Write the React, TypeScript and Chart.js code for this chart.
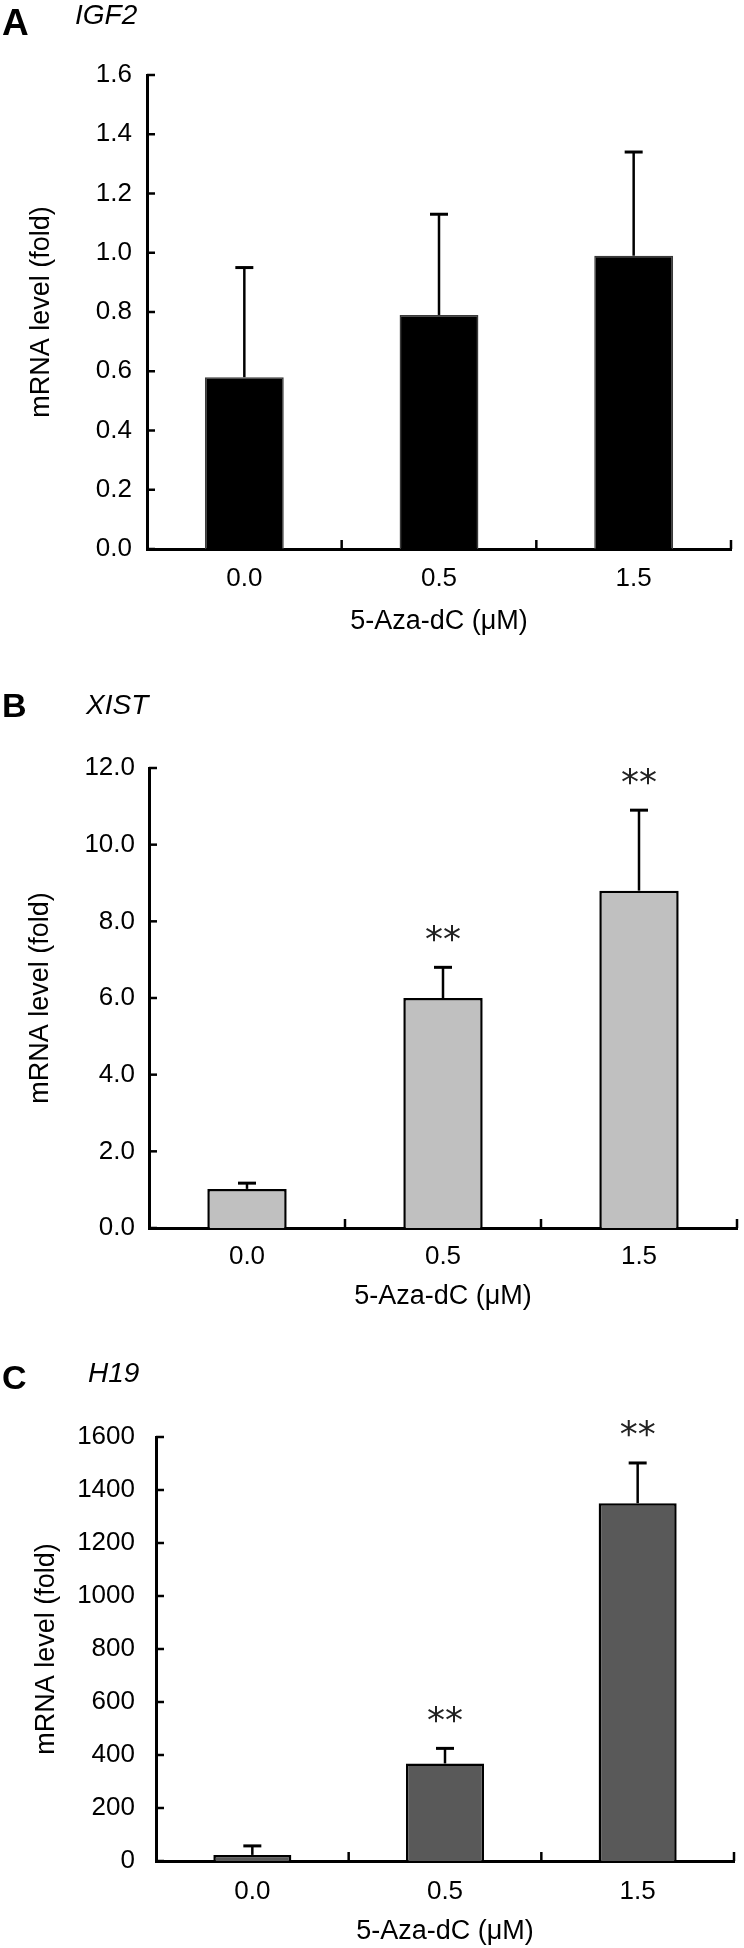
import React, { useEffect, useRef } from 'react';
import { Chart, registerables } from 'chart.js';

Chart.register(...registerables);

// ---------- data ----------
const categories = ['0.0', '0.5', '1.5'];

const igf2Mean = [0.58, 0.79, 0.99];
const igf2Sd = [0.37, 0.34, 0.35];
const igf2Sig = ['', '', ''];

const xistMean = [1.02, 6.0, 8.8];
const xistSd = [0.15, 0.8, 2.1];
const xistSig = ['', '**', '**'];

const h19Mean = [23, 368, 1350];
const h19Sd = [34, 57, 152];
const h19Sig = ['', '**', '**'];

const igf2Axis = { max: 1.6, step: 0.2, decimals: 1 };
const xistAxis = { max: 12, step: 2, decimals: 1 };
const h19Axis = { max: 1600, step: 200, decimals: 0 };

const xTitle = '5-Aza-dC (μM)';
const yTitle = 'mRNA level (fold)';

const FONT = '"Liberation Sans", Arial, Helvetica, sans-serif';

const decorPlugin = {
  id: 'decor',
  afterDatasetsDraw(chart: any, _args: any, opts: any) {
    const { ctx, chartArea, scales } = chart;
    const x = scales.x;
    const y = scales.y;
    const means: number[] = opts.means;
    const sds: number[] = opts.sds;
    const sig: string[] = opts.sig;
    ctx.save();
    ctx.strokeStyle = '#000';
    ctx.lineCap = 'butt';
    means.forEach((m, i) => {
      const px = x.getPixelForValue(i);
      const y0 = y.getPixelForValue(m);
      const y1 = y.getPixelForValue(m + sds[i]);
      ctx.lineWidth = 2.5;
      ctx.beginPath();
      ctx.moveTo(px, y0);
      ctx.lineTo(px, y1);
      ctx.stroke();
      ctx.lineWidth = 3;
      ctx.beginPath();
      ctx.moveTo(px - 9, y1);
      ctx.lineTo(px + 9, y1);
      ctx.stroke();
      if (sig[i]) {
        ctx.fillStyle = '#222';
        ctx.font = '36px "DejaVu Sans", sans-serif';
        ctx.textAlign = 'center';
        ctx.textBaseline = 'middle';
        ctx.fillText(sig[i], px, y1 - 26);
      }
    });
    // inward tick marks
    ctx.lineWidth = 2.5;
    y.ticks.forEach((t: any) => {
      const py = y.getPixelForValue(t.value);
      ctx.beginPath();
      ctx.moveTo(chartArea.left, py);
      ctx.lineTo(chartArea.left + 8, py);
      ctx.stroke();
    });
    for (let i = 0; i < means.length; i++) {
      const bx = x.getPixelForValue(i + 0.5);
      ctx.beginPath();
      ctx.moveTo(bx, chartArea.bottom);
      ctx.lineTo(bx, chartArea.bottom - 9);
      ctx.stroke();
    }
    ctx.restore();
  },
};

type PanelProps = {
  top: number;
  height: number;
  means: number[];
  sds: number[];
  sig: string[];
  axis: { max: number; step: number; decimals: number };
  fill: string;
  border: string;
  borderWidth: number;
  padTop: number;
  padRight: number;
  yWidth: number;
  xHeight: number;
  yTitlePad: number;
  yTickPad: number;
  xTickPad: number;
  xTitlePadBottom: number;
};

function Panel(p: PanelProps) {
  const ref = useRef<HTMLCanvasElement>(null);
  useEffect(() => {
    if (!ref.current) return;
    const chart = new Chart(ref.current, {
      type: 'bar',
      data: {
        labels: categories,
        datasets: [
          {
            data: p.means,
            backgroundColor: p.fill,
            borderColor: p.border,
            borderWidth: p.borderWidth,
            barPercentage: 0.405,
            categoryPercentage: 1,
          },
        ],
      },
      options: {
        animation: false,
        responsive: false,
        maintainAspectRatio: false,
        layout: { padding: { top: p.padTop, right: p.padRight, left: 0, bottom: 0 } },
        plugins: {
          legend: { display: false },
          tooltip: { enabled: false },
          decor: { means: p.means, sds: p.sds, sig: p.sig },
        } as any,
        scales: {
          x: {
            type: 'category',
            offset: true,
            z: 1,
            grid: { display: false, drawTicks: false },
            border: { display: true, color: '#000', width: 3 },
            ticks: { color: '#000', font: { family: FONT, size: 26 }, padding: p.xTickPad },
            title: {
              display: true,
              text: xTitle,
              color: '#000',
              font: { family: FONT, size: 27 },
              padding: { top: 0, bottom: p.xTitlePadBottom },
            },
            afterFit: (s: any) => {
              s.height = p.xHeight;
            },
          },
          y: {
            min: 0,
            max: p.axis.max,
            grid: { display: false, drawTicks: false },
            border: { display: true, color: '#000', width: 3 },
            ticks: {
              stepSize: p.axis.step,
              color: '#000',
              font: { family: FONT, size: 26 },
              padding: p.yTickPad,
              callback: (v: any) => Number(v).toFixed(p.axis.decimals),
            },
            title: {
              display: true,
              text: yTitle,
              color: '#000',
              font: { family: FONT, size: 27 },
              padding: { top: p.yTitlePad, bottom: 0 },
            },
            afterFit: (s: any) => {
              s.width = p.yWidth;
            },
          },
        },
      } as any,
      plugins: [decorPlugin],
    });
    return () => chart.destroy();
  }, []);
  return (
    <canvas
      ref={ref}
      width={744}
      height={p.height}
      style={{ position: 'absolute', left: 0, top: p.top, width: 744, height: p.height }}
    />
  );
}

const letterStyle = (top: number, size: number): React.CSSProperties => ({
  position: 'absolute',
  left: 2,
  top,
  fontFamily: FONT,
  fontWeight: 'bold',
  fontSize: size,
  lineHeight: 1,
  color: '#000',
});

const geneStyle = (top: number, left: number, size: number): React.CSSProperties => ({
  position: 'absolute',
  left,
  top,
  fontFamily: FONT,
  fontStyle: 'italic',
  fontSize: size,
  lineHeight: 1,
  color: '#000',
});

export default function App() {
  return (
    <div style={{ position: 'absolute', left: 0, top: 0, width: 744, height: 1948, background: '#fff', overflow: 'hidden' }}>
      <Panel
        top={40}
        height={620}
        means={igf2Mean}
        sds={igf2Sd}
        sig={igf2Sig}
        axis={igf2Axis}
        fill="#000"
        border="#3a3a3a"
        borderWidth={1.5}
        padTop={35}
        padRight={13}
        yWidth={147}
        xHeight={111}
        yTitlePad={25}
        yTickPad={15}
        xTickPad={14}
        xTitlePadBottom={22}
      />
      <Panel
        top={660}
        height={660}
        means={xistMean}
        sds={xistSd}
        sig={xistSig}
        axis={xistAxis}
        fill="#c0c0c0"
        border="#000"
        borderWidth={2.5}
        padTop={108}
        padRight={7}
        yWidth={149}
        xHeight={92}
        yTitlePad={24}
        yTickPad={14}
        xTickPad={13}
        xTitlePadBottom={7}
      />
      <Panel
        top={1320}
        height={628}
        means={h19Mean}
        sds={h19Sd}
        sig={h19Sig}
        axis={h19Axis}
        fill="#595959"
        border="#000"
        borderWidth={2.5}
        padTop={117}
        padRight={10}
        yWidth={156}
        xHeight={87}
        yTitlePad={30}
        yTickPad={21}
        xTickPad={15}
        xTitlePadBottom={0}
      />
      <div style={letterStyle(4, 37)}>A</div>
      <div style={geneStyle(1, 75, 28)}>IGF2</div>
      <div style={letterStyle(688, 34)}>B</div>
      <div style={geneStyle(691, 86, 28)}>XIST</div>
      <div style={letterStyle(1360, 34)}>C</div>
      <div style={geneStyle(1359, 88, 28)}>H19</div>
    </div>
  );
}
